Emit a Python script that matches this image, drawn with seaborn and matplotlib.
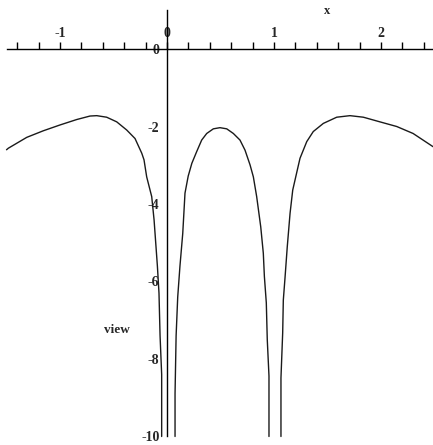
import numpy as np
import pandas as pd
import matplotlib
matplotlib.use("Agg")
import matplotlib.pyplot as plt
import seaborn as sns
from matplotlib.ticker import FixedLocator, FuncFormatter

# ---- data (three branches of the curve) ----
x_left = [-1.50, -1.483, -1.311, -1.156, -1.0, -0.844, -0.72, -0.657, -0.564, -0.47,
          -0.377, -0.299, -0.236, -0.215, -0.190, -0.143, -0.121, -0.103, -0.090,
          -0.075, -0.065, -0.050, -0.050]
y_left = [-2.60, -2.56, -2.28, -2.11, -1.96, -1.82, -1.73, -1.72, -1.76, -1.88,
          -2.09, -2.31, -2.69, -2.86, -3.30, -3.81, -4.41, -5.10, -5.60,
          -6.30, -7.40, -8.40, -10.0]

x_mid = [0.075, 0.075, 0.085, 0.100, 0.121, 0.147, 0.168, 0.198, 0.232, 0.277, 0.324,
         0.371, 0.433, 0.495, 0.558, 0.620, 0.682, 0.729, 0.776, 0.807, 0.838, 0.876,
         0.900, 0.910, 0.928, 0.937, 0.953, 0.953]
y_mid = [-10.0, -8.90, -7.40, -6.40, -5.60, -4.76, -3.72, -3.28, -2.95, -2.65, -2.35,
         -2.18, -2.06, -2.03, -2.06, -2.18, -2.35, -2.61, -2.99, -3.30, -3.81, -4.59,
         -5.27, -5.87, -6.55, -7.50, -8.44, -10.0]

x_right = [1.065, 1.065, 1.081, 1.087, 1.103, 1.124, 1.150, 1.175, 1.218, 1.243, 1.306,
           1.367, 1.461, 1.586, 1.710, 1.835, 1.990, 2.147, 2.300, 2.486]
y_right = [-10.0, -8.49, -7.33, -6.48, -5.90, -5.10, -4.24, -3.64, -3.12, -2.82, -2.39,
           -2.13, -1.92, -1.76, -1.72, -1.76, -1.88, -2.00, -2.18, -2.52]

x_tick_labels = [-1, 0, 1, 2]
y_tick_labels = [0, -2, -4, -6, -8, -10]

df = pd.concat([
    pd.DataFrame({"x": x_left, "y": y_left, "branch": 0}),
    pd.DataFrame({"x": x_mid, "y": y_mid, "branch": 1}),
    pd.DataFrame({"x": x_right, "y": y_right, "branch": 2}),
], ignore_index=True)

sns.set_style("white")
plt.rcParams["axes.unicode_minus"] = False
plt.rcParams["font.family"] = ["Liberation Serif", "DejaVu Serif"]

fig = plt.figure(figsize=(4.33, 4.45), dpi=100)
ax = fig.add_axes([0, 0, 1, 1])

sns.lineplot(data=df, x="x", y="y", units="branch", estimator=None, sort=False,
             color="#1a1a1a", linewidth=1.0, ax=ax, legend=False)

ax.set_xlim(-1.561, 2.486)
ax.set_ylim(-10.22, 1.265)

for s in ["bottom", "right"]:
    ax.spines[s].set_visible(False)
ax.spines["top"].set_position(("data", 0))
ax.spines["left"].set_position(("data", 0))
ax.spines["top"].set_bounds(-1.5, 2.5)
ax.spines["left"].set_bounds(-10, 1.0)
for s in ["top", "left"]:
    ax.spines[s].set_color("black")
    ax.spines[s].set_linewidth(1.0)

ax.xaxis.set_ticks_position("top")
ax.xaxis.set_label_position("top")
xt = np.round(np.arange(-1.4, 2.41, 0.2), 2)
ax.xaxis.set_major_locator(FixedLocator(xt))
ax.xaxis.set_major_formatter(FuncFormatter(
    lambda v, p: str(int(round(v))) if any(abs(v - t) < 1e-6 for t in x_tick_labels) else ""))
yt = np.round(np.arange(-10, 0.81, 0.4), 2)
ax.yaxis.set_major_locator(FixedLocator(yt))
ax.yaxis.set_major_formatter(FuncFormatter(
    lambda v, p: str(int(round(v))) if any(abs(v - t) < 1e-6 for t in y_tick_labels) else ""))

ax.tick_params(axis="x", direction="out", length=5, width=1, color="black",
               labelsize=10, pad=1.5)
ax.tick_params(axis="y", direction="out", length=5, width=1, color="black",
               labelsize=10, pad=0.5)
for lab in ax.get_xticklabels() + ax.get_yticklabels():
    lab.set_fontweight("bold")

ax.set_xlabel("")
ax.set_ylabel("")
fig.text(327 / 433, 1 - 11 / 445, "x", ha="center", va="center",
         fontsize=9, fontweight="bold")
fig.text(117 / 433, 1 - 330 / 445, "view", ha="center", va="center",
         fontsize=9.5, fontweight="bold")

fig.savefig("out.png", dpi=100)
